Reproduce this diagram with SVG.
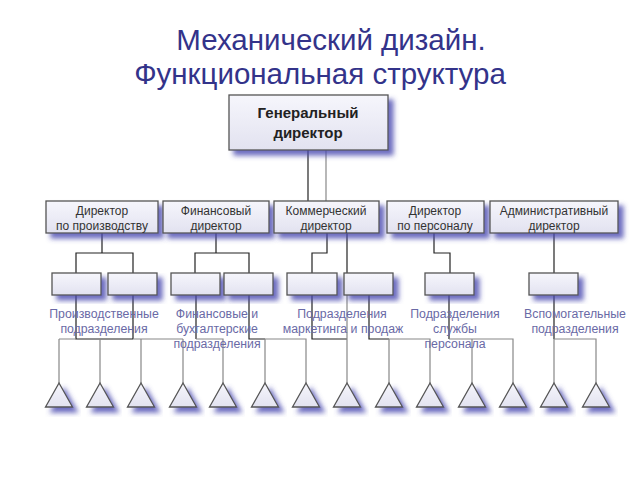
<svg xmlns="http://www.w3.org/2000/svg" width="640" height="480" viewBox="0 0 640 480">
<defs>
<linearGradient id="g" x1="0" y1="0" x2="0" y2="1"><stop offset="0" stop-color="#f6f6fc"/><stop offset="1" stop-color="#e2e2f0"/></linearGradient>
<filter id="ds" x="-20%" y="-20%" width="150%" height="160%"><feGaussianBlur in="SourceAlpha" stdDeviation="2.5" result="b"/><feOffset in="b" dx="5" dy="5" result="o"/><feFlood flood-color="#4a4ab0" flood-opacity="0.8"/><feComposite operator="in" in2="o" result="s"/><feMerge><feMergeNode in="s"/><feMergeNode in="SourceGraphic"/></feMerge></filter>
</defs>
<style>
.bx{fill:url(#g);stroke:#555;stroke-width:1.3;filter:url(#ds)}
.t{font-family:"Liberation Sans",Arial,sans-serif;text-anchor:middle}
.title{font-size:29.5px;fill:#33338a}
.top{font-size:15px;font-weight:bold;fill:#222}
.l2{font-size:12px;fill:#333}
.lb{font-size:12.3px;fill:#6a6aa6}
.k{fill:none;stroke:#222;stroke-width:1.2}
.gr{fill:none;stroke:#888;stroke-width:1.2}
</style>
<rect width="640" height="480" fill="#fff"/>
<text class="t title" x="331" y="50">Механический дизайн.</text>
<text class="t title" x="320" y="84">Функциональная структура</text>

<g id="connectors">
<path class="k" d="M308 150V201"/>
<path class="gr" d="M326 150V201"/>
<path class="k" d="M102 233V253H76V273M102 253H133V273"/>
<path class="k" d="M216 233V253H195V273M216 253H249V273"/>
<path class="k" d="M327 233V253H312V273"/>
<path class="k" d="M347 233V273"/>
<path class="k" d="M434 233V253H450V273"/>
<path class="k" d="M554 233V273"/>
<path class="k" d="M76 295V339H133M133 295V339"/>
<path class="gr" d="M59 339H76M133 339H183M59 339V383M100 339V383M141 339V383M183 339V383"/>
<path class="k" d="M196 295V339"/>
<path class="gr" d="M196 339H223V383"/>
<path class="k" d="M249 295V339H265"/>
<path class="gr" d="M265 339H306V383M265 339V383"/>
<path class="k" d="M312 295V339H347"/>
<path class="gr" d="M347 295V383"/>
<path class="k" d="M369 295V339H389"/>
<path class="gr" d="M389 339H430V383M389 339V383"/>
<path class="k" d="M449 295V339"/>
<path class="gr" d="M449 339H513V383M472 339V383"/>
<path class="k" d="M554 295V339"/>
<path class="gr" d="M554 339H596V383M554 339V383"/>
</g>

<g id="n-gen"><rect class="bx" x="229" y="95" width="159" height="55"/><text class="t top" x="308" y="118">Генеральный</text><text class="t top" x="308" y="138">директор</text></g>

<g id="n-prod"><rect class="bx" x="46" y="201" width="112" height="32"/><text class="t l2" x="102" y="215">Директор</text><text class="t l2" x="102" y="230">по производству</text></g>
<g id="n-fin"><rect class="bx" x="163" y="201" width="106" height="32"/><text class="t l2" x="216" y="215">Финансовый</text><text class="t l2" x="216" y="230">директор</text></g>
<g id="n-com"><rect class="bx" x="274" y="201" width="105" height="32"/><text class="t l2" x="326" y="215">Коммерческий</text><text class="t l2" x="326" y="230">директор</text></g>
<g id="n-per"><rect class="bx" x="387" y="201" width="97" height="32"/><text class="t l2" x="435" y="215">Директор</text><text class="t l2" x="435" y="230">по персоналу</text></g>
<g id="n-adm"><rect class="bx" x="490" y="201" width="128" height="32"/><text class="t l2" x="554" y="215">Административный</text><text class="t l2" x="554" y="230">директор</text></g>

<g id="n-a"><rect class="bx" x="52" y="273" width="49" height="22"/></g>
<g id="n-b"><rect class="bx" x="108" y="273" width="49" height="22"/></g>
<g id="n-c"><rect class="bx" x="171" y="273" width="49" height="22"/></g>
<g id="n-d"><rect class="bx" x="224" y="273" width="49" height="22"/></g>
<g id="n-e"><rect class="bx" x="287" y="273" width="50" height="22"/></g>
<g id="n-f"><rect class="bx" x="344" y="273" width="49" height="22"/></g>
<g id="n-g"><rect class="bx" x="425" y="273" width="49" height="22"/></g>
<g id="n-h"><rect class="bx" x="529" y="273" width="49" height="22"/></g>

<g id="labels">
<text class="t lb" x="104" y="318">Производственные</text><text class="t lb" x="104" y="333">подразделения</text>
<text class="t lb" x="217" y="318">Финансовые и</text><text class="t lb" x="217" y="333">бухгалтерские</text><text class="t lb" x="217" y="348">подразделения</text>
<text class="t lb" x="342" y="318">Подразделения</text><text class="t lb" x="343" y="333">маркетинга и продаж</text>
<text class="t lb" x="455" y="318">Подразделения</text><text class="t lb" x="455" y="333">службы</text><text class="t lb" x="455" y="348">персонала</text>
<text class="t lb" x="575" y="318">Вспомогательные</text><text class="t lb" x="575" y="333">подразделения</text>
</g>

<g id="triangles">
<polygon class="bx" points="59,383 45.5,407 72.5,407"/>
<polygon class="bx" points="100,383 86.5,407 113.5,407"/>
<polygon class="bx" points="141,383 127.5,407 154.5,407"/>
<polygon class="bx" points="183,383 169.5,407 196.5,407"/>
<polygon class="bx" points="223,383 209.5,407 236.5,407"/>
<polygon class="bx" points="265,383 251.5,407 278.5,407"/>
<polygon class="bx" points="306,383 292.5,407 319.5,407"/>
<polygon class="bx" points="347,383 333.5,407 360.5,407"/>
<polygon class="bx" points="389,383 375.5,407 402.5,407"/>
<polygon class="bx" points="430,383 416.5,407 443.5,407"/>
<polygon class="bx" points="472,383 458.5,407 485.5,407"/>
<polygon class="bx" points="513,383 499.5,407 526.5,407"/>
<polygon class="bx" points="554,383 540.5,407 567.5,407"/>
<polygon class="bx" points="596,383 582.5,407 609.5,407"/>
</g>
</svg>
